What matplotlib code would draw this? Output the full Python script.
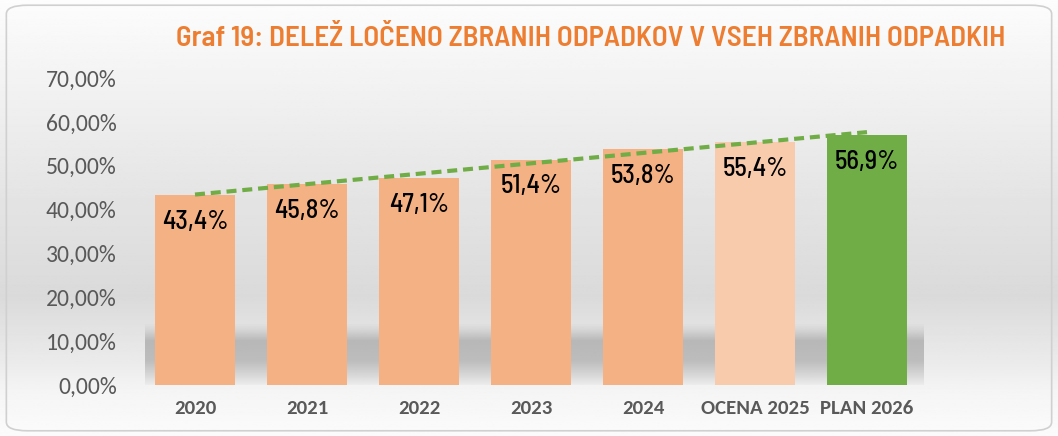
import numpy as np
import matplotlib
matplotlib.use("Agg")
import matplotlib.pyplot as plt
from matplotlib.patches import FancyBboxPatch

# data
categories = ["2020", "2021", "2022", "2023", "2024", "OCENA 2025", "PLAN 2026"]
values = [43.4, 45.8, 47.1, 51.4, 53.8, 55.4, 56.9]
value_labels = ["43,4%", "45,8%", "47,1%", "51,4%", "53,8%", "55,4%", "56,9%"]
y_ticks = [0, 10, 20, 30, 40, 50, 60, 70]
y_tick_labels = ["0,00%", "10,00%", "20,00%", "30,00%", "40,00%", "50,00%", "60,00%", "70,00%"]
title = "Graf 19: DELEŽ LOČENO ZBRANIH ODPADKOV V VSEH ZBRANIH ODPADKIH"

bar_colors = ["#F4B183"] * 5 + ["#F8CBAD", "#70AD47"]

# narrow DIN-like font for title and labels, Calibri-like for the axes
narrow = ["Barlow Semi Condensed", "DejaVu Sans"]
calibri = ["Carlito", "DejaVu Sans"]

fig = plt.figure(figsize=(10.58, 4.36), dpi=100)

# background gradient over the whole figure
bg = fig.add_axes([0, 0, 1, 1], zorder=0)
rows = np.linspace(0, 1, 300)
shade = np.interp(rows, [0, 0.12, 0.45, 0.68, 0.84, 0.9, 1],
                  [0.99, 0.965, 0.895, 0.855, 0.925, 0.96, 0.985])
bg.imshow(np.tile(shade[:, None], (1, 2)), cmap="gray", vmin=0, vmax=1,
          aspect="auto", extent=[0, 1, 0, 1], origin="upper")
bg.add_patch(FancyBboxPatch((0.006, 0.012), 0.988, 0.976,
                            boxstyle="round,pad=0,rounding_size=0.02",
                            fill=False, edgecolor="#D0D0D0", linewidth=1.2,
                            transform=bg.transAxes))
bg.set_xlim(0, 1)
bg.set_ylim(0, 1)
bg.axis("off")

ax = fig.add_axes([139 / 1058, 1 - 385 / 436, (923 - 139) / 1058, (385 - 78) / 436], zorder=1)
ax.patch.set_alpha(0)

x = np.arange(len(categories))

# soft shadow band under the bars
hy = np.linspace(0, 14, 80)
alpha = np.interp(hy, [0, 2, 5.5, 10, 12.5, 14], [0.05, 0.18, 0.38, 0.4, 0.12, 0.0])
shadow = np.zeros((80, 2, 4))
shadow[..., :3] = 0.45
shadow[..., 3] = alpha[:, None]
ax.imshow(shadow, extent=[-0.45, len(categories) - 0.46, 0, 14], aspect="auto",
          origin="lower", zorder=1, interpolation="bilinear")

ax.bar(x, values, width=0.71, color=bar_colors, zorder=2)

for xi, v, lab in zip(x, values, value_labels):
    ax.text(xi, v - 3.4, lab, ha="center", va="top", fontsize=19, fontweight="medium",
            family=narrow, color="black", zorder=4)

# linear trend line
coef = np.polyfit(x, values, 1)
ax.plot([x[0], x[-1]], np.polyval(coef, [x[0], x[-1]]), color="#70AD47",
        linestyle=(0, (2.4, 1.4)), linewidth=3.0, zorder=3)

ax.set_xlim(-0.5, len(categories) - 0.5)
ax.set_ylim(0, 70)
ax.set_yticks(y_ticks)
ax.set_yticklabels(y_tick_labels, fontsize=17, color="#595959", family=calibri)
ax.set_xticks(x)
ax.set_xticklabels(categories, fontsize=15, fontweight="bold", color="#595959", family=calibri)
ax.tick_params(length=0)
ax.tick_params(axis="y", pad=16)
ax.tick_params(axis="x", pad=11)
for s in ax.spines.values():
    s.set_visible(False)

fig.text(591 / 1058, 1 - 38 / 436, title, ha="center", va="center", fontsize=21,
         fontweight="semibold", family=narrow, color="#ED7D31")

fig.savefig("out.png", dpi=100)
